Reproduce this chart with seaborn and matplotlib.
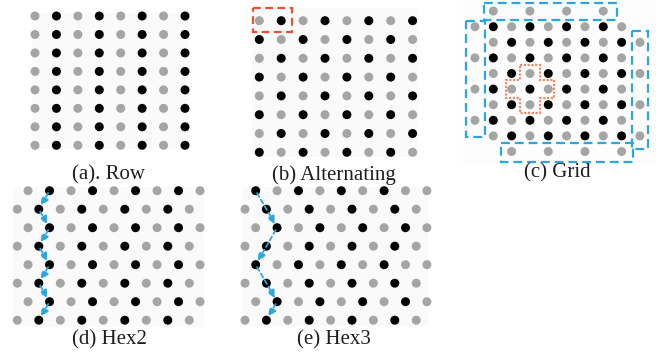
import matplotlib
matplotlib.use("Agg")
import matplotlib.pyplot as plt
import numpy as np
import pandas as pd
import seaborn as sns
from matplotlib.patches import Rectangle, Polygon

sns.set_style("white")
plt.rcParams["font.family"] = ["Liberation Serif", "DejaVu Serif"]

# ---- dot layouts: one string per row, B = black dot, G = grey dot, . = empty
row_rows = ["GBGBGBGB"] * 8
alt_rows = ["GBGBGBGB", "BGBGBGBG"] * 4
# 10x10 grid incl. wrap-around border (first row/col is index -1)
grid_rows = [
    ".G.G.G.G..",
    "GBGBGBGBG.",
    ".GBGBGBGBG",
    "GBGBGBGBG.",
    ".GBGBGBGBG",
    "GBGBGBGBG.",
    ".GBGBGBGBG",
    "GBGBGBGBG.",
    ".GBGBGBGBG",
    "..G.G.G.G.",
]
hex2_rows = ["GBGBGBGBG"] * 8
hex3_rows = ["BGBGBGBGG", "GBGBGBGBG", "GBGBGBGBG", "GBGBGBGBG"] * 2

# zig-zag trails as (row, dot index in row)
hex2_trail = [(0, 1), (1, 1), (2, 1), (3, 1), (4, 1), (5, 1), (6, 1), (7, 1)]
hex3_trail = [(0, 0), (2, 1), (4, 0), (6, 1), (7, 1)]

captions = ["(a). Row", "(b) Alternating", "(c) Grid", "(d) Hex2", "(e) Hex3"]

TONES = {"B": "#000000", "G": "#a5a5a5"}
BLUE = "#2aa6e0"
RED = "#e8522f"
ORANGE = "#f08a66"
PANEL_BG = "#fafafa"

W, H = 656, 353
fig = plt.figure(figsize=(W / 100, H / 100), dpi=100)


def dot_x(i, j, hexed):
    return j + (0.5 if hexed and i % 2 == 0 else 0.0)


def frame(rows, hexed=False, offset=0):
    recs = []
    for i, row in enumerate(rows):
        for j, ch in enumerate(row):
            if ch == ".":
                continue
            recs.append({"col": dot_x(i, j, hexed) + offset,
                         "row": i + offset, "tone": ch})
    return pd.DataFrame(recs)


def panel(bg, origin, step, data, bgcolor=PANEL_BG):
    x0, y0, x1, y1 = bg
    ax = fig.add_axes([x0 / W, 1 - y1 / H, (x1 - x0) / W, (y1 - y0) / H])
    ax.set_facecolor(bgcolor)
    sns.scatterplot(data=data, x="col", y="row", hue="tone", palette=TONES,
                    s=42, linewidth=0, legend=False, ax=ax, clip_on=False,
                    zorder=3)
    ox, oy = origin
    sx, sy = step
    ax.set_xlim((x0 - ox) / sx, (x1 - ox) / sx)
    ax.set_ylim((y1 - oy) / sy, (y0 - oy) / sy)
    ax.set_xticks([])
    ax.set_yticks([])
    ax.set_xlabel("")
    ax.set_ylabel("")
    for s in ax.spines.values():
        s.set_visible(False)
    return ax


def dashed_box(ax, x0, x1, y0, y1, color, dash=(4, 2.2), lw=1.6):
    ax.add_patch(Rectangle((x0, y0), x1 - x0, y1 - y0, fill=False,
                           edgecolor=color, lw=lw, linestyle=(0, dash),
                           clip_on=False, zorder=4))


def trail(ax, steps, hexed=True):
    pts = [(dot_x(i, j, hexed), i) for i, j in steps]
    for p0, p1 in zip(pts[:-1], pts[1:]):
        ax.annotate("", xy=p1, xytext=p0,
                    arrowprops=dict(arrowstyle="-|>,head_length=0.45,head_width=0.22",
                                    color=BLUE, lw=1.3, linestyle=(0, (2.4, 1.8)),
                                    shrinkA=2, shrinkB=3.0),
                    zorder=5)


# (a) Row
ax_a = panel((32, 13, 188, 149), (35, 16), (21.43, 18.47), frame(row_rows))

# (b) Alternating
ax_b = panel((251.7, 8.3, 417.7, 156.7), (259.3, 20.7), (21.9, 18.8), frame(alt_rows))
dashed_box(ax_b, -0.30, 1.48, -0.66, 0.585, RED, dash=(3.5, 2.0))

# (c) Grid with wrap-around border
ax_c = panel((463, 0, 656, 165), (493.3, 26.7), (18.33, 15.6),
             frame(grid_rows, offset=-1), bgcolor="#fdfdfd")
dashed_box(ax_c, -0.49, 6.73, -1.54, -0.43, BLUE)
dashed_box(ax_c, -1.50, -0.45, -0.38, 7.09, BLUE)
dashed_box(ax_c, 7.55, 8.44, 0.28, 7.84, BLUE)
dashed_box(ax_c, 0.40, 7.60, 7.44, 8.70, BLUE)
cx, cy, ax_w, ay_w, hx, hy = 2, 4, 0.55, 0.58, 1.32, 1.52
cross = [(cx - ax_w, cy - hy), (cx + ax_w, cy - hy), (cx + ax_w, cy - ay_w),
         (cx + hx, cy - ay_w), (cx + hx, cy + ay_w), (cx + ax_w, cy + ay_w),
         (cx + ax_w, cy + hy), (cx - ax_w, cy + hy), (cx - ax_w, cy + ay_w),
         (cx - hx, cy + ay_w), (cx - hx, cy - ay_w), (cx - ax_w, cy - ay_w)]
ax_c.add_patch(Polygon(cross, closed=True, fill=False, edgecolor=ORANGE,
                       lw=1.6, linestyle=(0, (1.0, 0.7)), zorder=4))

# (d) Hex2
ax_d = panel((13.3, 186.7, 204, 326.7), (17.3, 190.7), (21.5, 18.5),
             frame(hex2_rows, hexed=True))
trail(ax_d, hex2_trail)

# (e) Hex3
ax_e = panel((241.7, 186.7, 428.3, 325.7), (245, 190.7), (21.4, 18.5),
             frame(hex3_rows, hexed=True))
trail(ax_e, hex3_trail)

# captions
for text, (x, y) in zip(captions, [(109, 175), (334, 175), (557, 173),
                                   (109, 340), (334, 340)]):
    fig.text(x / W, 1 - y / H, text, ha="center", va="center",
             fontsize=15, color="#1e1e1e")

fig.savefig("out.png", dpi=100, facecolor="white")
